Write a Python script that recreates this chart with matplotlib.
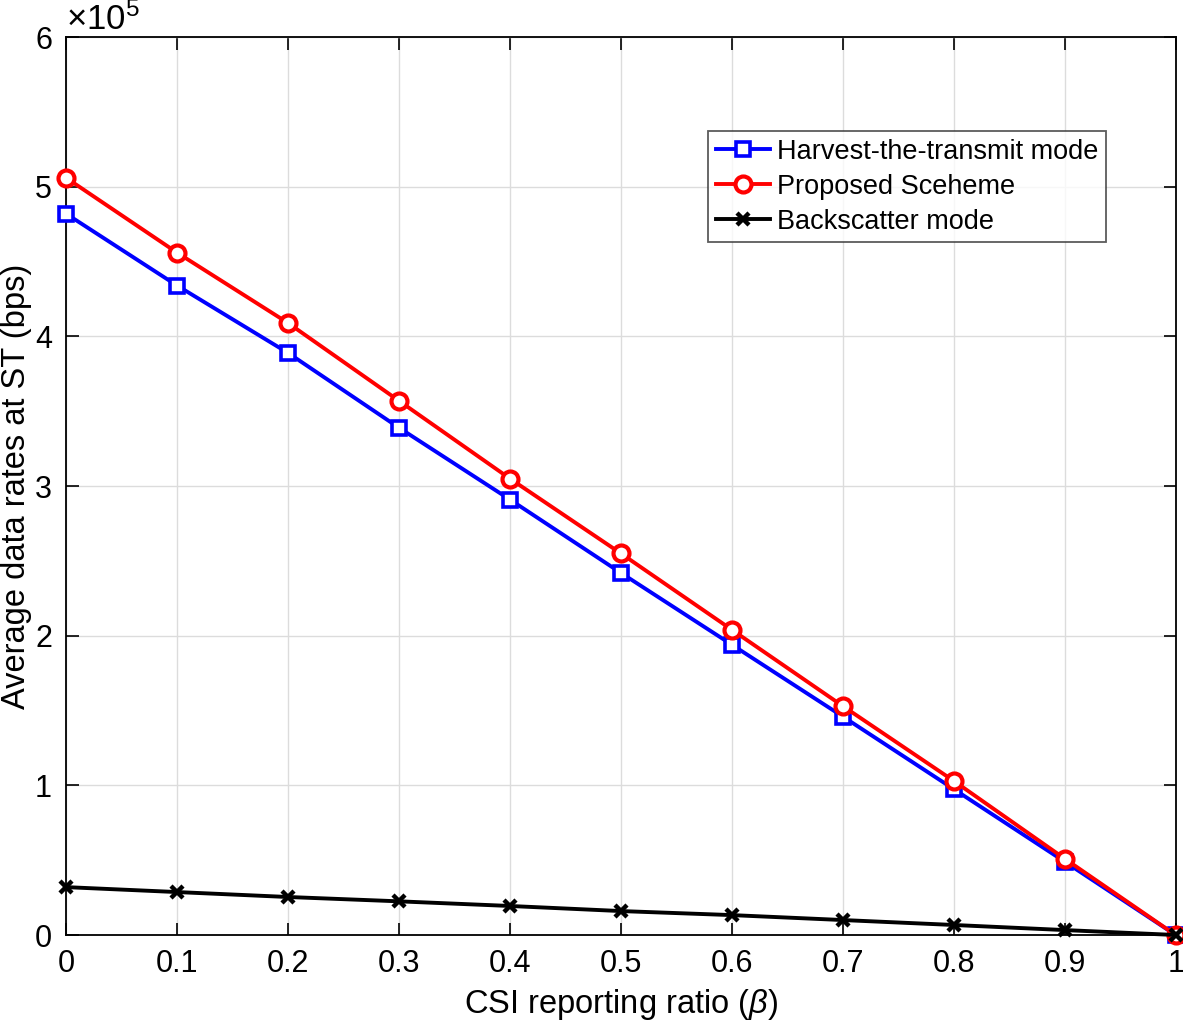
import numpy as np
from matplotlib import pyplot as plt

plt.rcParams['font.family'] = ['Liberation Sans', 'DejaVu Sans']
plt.rcParams['mathtext.fontset'] = 'custom'
plt.rcParams['mathtext.it'] = 'Liberation Sans:italic'
plt.rcParams['mathtext.rm'] = 'Liberation Sans'

# CSI reporting ratio
beta = [0, 0.1, 0.2, 0.3, 0.4, 0.5, 0.6, 0.7, 0.8, 0.9, 1.0]

# Average data rates (x 1e5 bps)
harvest = [4.82, 4.34, 3.89, 3.39, 2.91, 2.42, 1.94, 1.46, 0.975, 0.49, 0.0]
proposed = [5.06, 4.56, 4.09, 3.57, 3.05, 2.55, 2.04, 1.53, 1.03, 0.51, 0.0]
backscatter = [0.32, 0.287, 0.254, 0.225, 0.194, 0.16, 0.133, 0.10, 0.067, 0.033, 0.0]

fig = plt.figure(figsize=(11.83, 10.25), dpi=100)
ax = fig.add_axes([0.0558, 0.0878, 0.938, 0.876])

ax.plot(beta, harvest, color='blue', lw=2.8, marker='s', ms=10, mfc='white',
        mec='blue', mew=2.6, label='Harvest-the-transmit mode', clip_on=False, zorder=3)
ax.plot(beta, proposed, color='red', lw=2.8, marker='o', ms=11.5, mfc='white',
        mec='red', mew=3, label='Proposed Sceheme', clip_on=False, zorder=4)
ax.plot(beta, backscatter, color='black', lw=2.8, marker='x', ms=8, mew=3.2,
        label='Backscatter mode', clip_on=False, zorder=5)

ax.set_xlim(0, 1)
ax.set_ylim(0, 6)
ax.set_xticks(beta)
ax.set_xticklabels(['0', '0.1', '0.2', '0.3', '0.4', '0.5', '0.6', '0.7', '0.8', '0.9', '1'])
ax.set_yticks([0, 1, 2, 3, 4, 5, 6])
ax.grid(True, color='#dcdcdc', lw=1)
ax.set_axisbelow(True)
ax.tick_params(direction='in', length=9, width=1.2, labelsize=22, top=True, right=True)
ax.tick_params(axis='x', pad=10)
ax.tick_params(axis='y', pad=10)
for s in ax.spines.values():
    s.set_linewidth(1.3)

ax.set_xlabel(r'CSI reporting ratio ($\beta$)', fontsize=23.5, labelpad=6)
ax.set_ylabel('Average data rates at ST (bps)', fontsize=23.5)
ax.yaxis.set_label_coords(-0.0306, 0.5)
ax.text(0.0, 1.0, r'$\times$10$^{5}$', transform=ax.transAxes, fontsize=25,
        ha='left', va='bottom')

leg = ax.legend(loc='upper right', bbox_to_anchor=(0.937, 0.895), fontsize=19.5,
                frameon=True, fancybox=False, edgecolor='#333333',
                handlelength=2.0, handletextpad=0.25, borderpad=0.28,
                labelspacing=0.33, borderaxespad=0)
leg.get_frame().set_linewidth(1.3)

fig.savefig('out.png', dpi=100)
